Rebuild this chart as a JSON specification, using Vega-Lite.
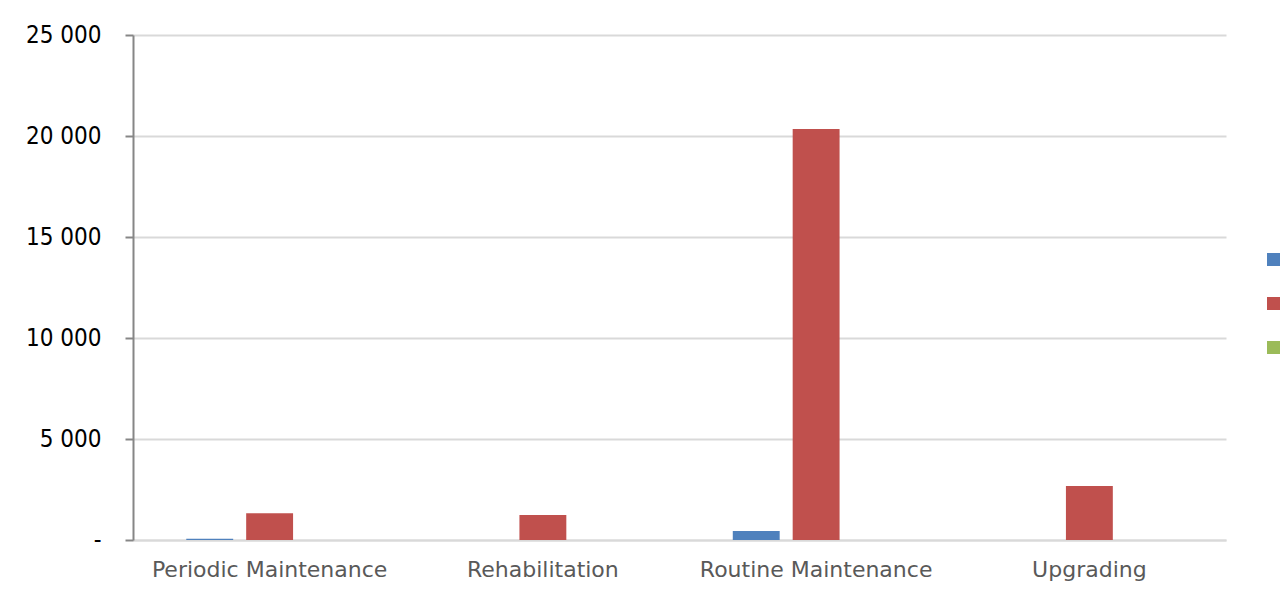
{
  "$schema": "https://vega.github.io/schema/vega-lite/v6.json",
  "autosize": {"type": "none"},
  "width": 1093,
  "height": 505,
  "padding": {"left": 133, "top": 35, "right": 56, "bottom": 57},
  "background": "white",
  "data": {"values": [
    {"category": "Periodic Maintenance", "series": "Series 1", "value": 60},
    {"category": "Periodic Maintenance", "series": "Series 2", "value": 1320},
    {"category": "Periodic Maintenance", "series": "Series 3", "value": 0},
    {"category": "Rehabilitation", "series": "Series 1", "value": 0},
    {"category": "Rehabilitation", "series": "Series 2", "value": 1240},
    {"category": "Rehabilitation", "series": "Series 3", "value": 0},
    {"category": "Routine Maintenance", "series": "Series 1", "value": 440},
    {"category": "Routine Maintenance", "series": "Series 2", "value": 20350},
    {"category": "Routine Maintenance", "series": "Series 3", "value": 0},
    {"category": "Upgrading", "series": "Series 1", "value": 0},
    {"category": "Upgrading", "series": "Series 2", "value": 2670},
    {"category": "Upgrading", "series": "Series 3", "value": 0}
  ]},
  "mark": {"type": "bar"},
  "encoding": {
    "x": {
      "field": "category", "type": "nominal", "sort": null,
      "scale": {"paddingInner": 0.39, "paddingOuter": 0.195},
      "axis": {
        "title": null, "labelAngle": 0, "ticks": false, "labelLimit": 0,
        "domainColor": "#d9d9d9", "domainWidth": 2,
        "labelFont": "DejaVu Sans", "labelFontSize": 22, "labelColor": "#595959",
        "labelPadding": 19
      }
    },
    "xOffset": {
      "field": "series", "type": "nominal",
      "scale": {"paddingInner": 0.217, "paddingOuter": 0}
    },
    "y": {
      "field": "value", "type": "quantitative",
      "scale": {"domain": [0, 25000], "nice": false},
      "axis": {
        "title": null, "values": [0, 5000, 10000, 15000, 20000, 25000],
        "labelExpr": "datum.value == 0 ? '-' : replace(format(datum.value, ','), ',', ' ')",
        "domainColor": "#868686", "domainWidth": 2,
        "tickColor": "#868686", "tickWidth": 2, "tickSize": 8,
        "labelPadding": 24,
        "labelFont": "DejaVu Sans Condensed", "labelFontSize": 24, "labelColor": "#000000",
        "gridColor": "#d9d9d9", "gridWidth": 2
      }
    },
    "color": {
      "field": "series", "type": "nominal",
      "scale": {"range": ["#4f81bd", "#c0504d", "#9bbb59"]},
      "legend": {
        "title": null, "orient": "none", "legendX": 1134, "legendY": 218,
        "symbolType": "square", "symbolSize": 169, "symbolStrokeWidth": 0,
        "rowPadding": 31, "labels": false
      }
    }
  },
  "config": {"view": {"stroke": null}}
}
